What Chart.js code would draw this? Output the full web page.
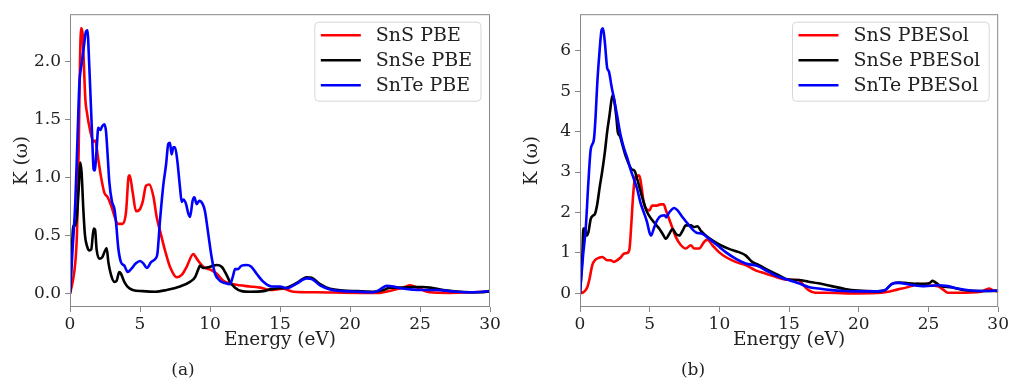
<!DOCTYPE html>
<html>
<head>
<meta charset="utf-8">
<script src="https://cdn.jsdelivr.net/npm/chart.js@4.4.1/dist/chart.umd.min.js"></script>
<style>
  body { margin: 0; background: #fff; width: 1011px; height: 380px; overflow: hidden; position: relative; }
  canvas { position: absolute; top: 0; }
  #chartA { left: 0; }
  #chartB { left: 510px; }
  .cap { position: absolute; top: 359px; font: 17px "DejaVu Serif", serif; color: #222; transform: translateX(-50%); }
</style>
</head>
<body>
<canvas id="chartA" width="505" height="360"></canvas>
<canvas id="chartB" width="501" height="360"></canvas>
<div class="cap" style="left:183px">(a)</div>
<div class="cap" style="left:693px">(b)</div>
<script>
// ---- data: energy (eV) and K(omega) per series ----
const energyTicks = [0, 5, 10, 15, 20, 25, 30];
const pbeTicks = [0, 0.5, 1.0, 1.5, 2.0];
const pbesolTicks = [0, 1, 2, 3, 4, 5, 6];

// (a) PBE
const snsPbeE = [0, 0.19, 0.38, 0.5, 0.62, 0.71, 0.79, 0.9, 0.95, 1.1, 1.21, 1.43, 1.67, 1.81, 1.98, 2.21, 2.45, 2.69, 2.93, 3.17, 3.4, 3.76, 4.0, 4.19, 4.26, 4.48, 4.71, 4.95, 5.19, 5.43, 5.67, 5.95, 6.19, 6.43, 6.79, 7.14, 7.62, 7.98, 8.33, 8.81, 9.05, 9.52, 10.12, 10.48, 10.95, 11.43, 12.1, 12.86, 13.6, 14.3, 15.2, 15.95, 17.6, 20.7, 22.1, 23.1, 23.8, 24.3, 24.8, 25.7, 27.1, 29.5, 30];
const snsPbeK = [0, 0.10, 0.27, 0.53, 1.24, 1.96, 2.29, 2.24, 2.10, 1.67, 1.56, 1.41, 1.31, 1.32, 1.19, 1.01, 0.87, 0.83, 0.76, 0.67, 0.60, 0.60, 0.70, 1.01, 1.02, 0.87, 0.71, 0.72, 0.79, 0.93, 0.94, 0.84, 0.66, 0.54, 0.37, 0.23, 0.14, 0.16, 0.23, 0.34, 0.30, 0.23, 0.20, 0.17, 0.11, 0.085, 0.07, 0.06, 0.05, 0.03, 0.04, 0.015, 0.01, 0.005, 0.005, 0.03, 0.05, 0.07, 0.05, 0.01, 0.005, 0.015, 0.02];

const snsePbeE = [0, 0.14, 0.24, 0.36, 0.5, 0.62, 0.74, 0.83, 0.95, 1.07, 1.21, 1.38, 1.52, 1.69, 1.79, 1.9, 2.1, 2.29, 2.62, 2.74, 2.93, 3.17, 3.33, 3.52, 3.64, 3.88, 4.12, 4.48, 5.19, 6.1, 6.9, 7.86, 8.57, 8.93, 9.17, 9.29, 9.52, 9.88, 10.24, 10.48, 10.83, 11.14, 11.43, 11.79, 12.26, 12.86, 13.81, 14.3, 15.0, 15.48, 16.19, 16.9, 17.26, 17.86, 18.57, 19.5, 20.5, 21.67, 22.4, 22.86, 23.6, 24.5, 25.2, 25.7, 26.67, 27.86, 29.5, 30];
const snsePbeK = [0, 0.39, 0.585, 0.585, 0.67, 0.90, 1.13, 1.04, 0.73, 0.50, 0.41, 0.37, 0.38, 0.56, 0.55, 0.38, 0.30, 0.31, 0.39, 0.27, 0.16, 0.10, 0.11, 0.185, 0.17, 0.10, 0.057, 0.03, 0.02, 0.015, 0.03, 0.06, 0.10, 0.14, 0.21, 0.24, 0.22, 0.225, 0.24, 0.245, 0.23, 0.17, 0.10, 0.05, 0.02, 0.015, 0.02, 0.035, 0.045, 0.05, 0.09, 0.14, 0.135, 0.08, 0.04, 0.025, 0.02, 0.015, 0.03, 0.05, 0.05, 0.055, 0.055, 0.05, 0.03, 0.015, 0.01, 0.02];

const sntePbeE = [0, 0.19, 0.38, 0.55, 0.67, 0.83, 1.02, 1.14, 1.26, 1.33, 1.43, 1.57, 1.69, 1.76, 1.9, 2.02, 2.17, 2.29, 2.45, 2.57, 2.69, 2.81, 3.0, 3.17, 3.29, 3.45, 3.64, 3.88, 4.12, 4.36, 4.71, 5.0, 5.24, 5.48, 5.79, 6.1, 6.24, 6.43, 6.67, 6.86, 7.02, 7.14, 7.26, 7.38, 7.5, 7.67, 7.86, 7.98, 8.1, 8.29, 8.45, 8.57, 8.76, 8.88, 9.05, 9.24, 9.48, 9.64, 9.88, 10.12, 10.36, 10.71, 11.07, 11.43, 11.62, 11.79, 12.0, 12.26, 12.62, 12.95, 13.33, 13.81, 14.4, 15.0, 15.48, 16.19, 16.9, 17.26, 17.86, 18.57, 19.5, 20.5, 21.67, 22.1, 22.6, 23.1, 23.6, 24.3, 25.2, 26.2, 27.1, 28.3, 29.5, 30];
const sntePbeK = [0, 0.39, 0.79, 1.39, 1.81, 1.98, 2.16, 2.26, 2.27, 2.10, 1.81, 1.39, 1.07, 1.06, 1.24, 1.43, 1.41, 1.44, 1.46, 1.40, 1.19, 0.96, 0.79, 0.73, 0.61, 0.39, 0.27, 0.24, 0.185, 0.21, 0.26, 0.28, 0.26, 0.22, 0.27, 0.30, 0.34, 0.63, 0.94, 1.11, 1.29, 1.30, 1.20, 1.26, 1.26, 1.14, 0.91, 0.79, 0.81, 0.77, 0.69, 0.66, 0.80, 0.83, 0.77, 0.80, 0.77, 0.71, 0.51, 0.31, 0.17, 0.11, 0.09, 0.08, 0.14, 0.21, 0.21, 0.24, 0.245, 0.23, 0.17, 0.10, 0.06, 0.06, 0.045, 0.085, 0.13, 0.125, 0.07, 0.035, 0.02, 0.015, 0.01, 0.03, 0.065, 0.06, 0.045, 0.035, 0.03, 0.03, 0.02, 0.01, 0.015, 0.02];

// (b) PBESol
const snsSolE = [0, 0.29, 0.53, 0.69, 0.88, 1.07, 1.36, 1.6, 1.95, 2.19, 2.43, 2.67, 2.9, 3.14, 3.38, 3.55, 3.69, 3.81, 3.93, 4.1, 4.26, 4.4, 4.57, 4.74, 4.98, 5.17, 5.52, 5.76, 6.0, 6.17, 6.52, 6.88, 7.24, 7.59, 7.95, 8.19, 8.55, 8.9, 9.14, 9.5, 9.97, 10.45, 11.16, 11.88, 12.59, 13.3, 14.02, 14.73, 15.68, 16.04, 16.4, 16.87, 17.6, 19.97, 21.63, 22.82, 23.77, 24.24, 24.72, 25.67, 26.03, 26.39, 27.1, 28.77, 29.35, 29.6, 30];
const snsSolK = [0, 0.04, 0.16, 0.37, 0.70, 0.82, 0.88, 0.90, 0.82, 0.82, 0.78, 0.82, 0.88, 0.98, 1.0, 1.1, 1.76, 2.42, 2.83, 2.91, 2.91, 2.66, 2.25, 2.09, 2.05, 2.17, 2.17, 2.2, 2.2, 2.05, 1.72, 1.39, 1.19, 1.11, 1.19, 1.11, 1.11, 1.27, 1.33, 1.19, 1.02, 0.90, 0.78, 0.70, 0.57, 0.49, 0.41, 0.34, 0.33, 0.2, 0.08, 0.015, 0.015, 0.0, 0.015, 0.10, 0.18, 0.24, 0.2, 0.18, 0.10, 0.015, 0.015, 0.04, 0.12, 0.08, 0.04];

const snseSolE = [0, 0.17, 0.24, 0.36, 0.45, 0.6, 0.77, 0.93, 1.07, 1.24, 1.41, 1.6, 1.79, 1.95, 2.12, 2.26, 2.36, 2.5, 2.6, 2.72, 2.86, 3.03, 3.26, 3.5, 3.69, 3.91, 4.1, 4.33, 4.57, 4.81, 5.12, 5.4, 5.69, 5.93, 6.17, 6.4, 6.64, 6.88, 7.12, 7.36, 7.59, 7.95, 8.19, 8.43, 8.66, 9.02, 9.5, 10.09, 10.69, 11.4, 11.88, 12.35, 12.83, 13.54, 14.25, 14.97, 15.68, 16.4, 17.11, 18.06, 19.0, 19.97, 21.15, 21.87, 22.35, 22.82, 23.3, 24.0, 24.72, 25.1, 25.3, 25.55, 25.9, 26.6, 27.6, 28.5, 29.5, 30];
const snseSolK = [0, 0.94, 1.6, 1.6, 1.43, 1.51, 1.84, 1.92, 1.96, 2.21, 2.62, 3.03, 3.51, 4.0, 4.41, 4.78, 4.9, 4.67, 4.38, 3.97, 3.89, 3.69, 3.41, 3.2, 3.07, 3.03, 2.83, 2.54, 2.25, 2.01, 1.84, 1.72, 1.6, 1.47, 1.35, 1.47, 1.59, 1.47, 1.43, 1.55, 1.68, 1.68, 1.64, 1.66, 1.55, 1.43, 1.31, 1.19, 1.1, 1.02, 0.94, 0.78, 0.7, 0.57, 0.45, 0.34, 0.33, 0.29, 0.25, 0.18, 0.11, 0.07, 0.05, 0.08, 0.23, 0.27, 0.26, 0.24, 0.24, 0.26, 0.31, 0.26, 0.18, 0.15, 0.08, 0.06, 0.06, 0.07];

const snteSolE = [0, 0.22, 0.41, 0.6, 0.77, 1.0, 1.12, 1.24, 1.41, 1.55, 1.65, 1.79, 1.95, 2.07, 2.26, 2.43, 2.67, 2.9, 3.14, 3.38, 3.62, 3.86, 4.1, 4.33, 4.57, 4.81, 4.98, 5.1, 5.29, 5.52, 5.83, 6.07, 6.17, 6.4, 6.76, 7.0, 7.36, 7.83, 8.31, 8.78, 9.26, 9.85, 10.45, 11.16, 11.88, 12.7, 13.54, 14.25, 14.97, 15.68, 16.4, 17.11, 18.06, 19.0, 19.97, 21.15, 21.87, 22.35, 22.82, 23.77, 24.72, 25.67, 26.39, 27.1, 28.05, 29.0, 30];
const snteSolK = [0, 0.94, 1.6, 2.74, 3.56, 3.81, 4.38, 5.2, 6.02, 6.51, 6.55, 6.18, 5.57, 5.49, 5.12, 4.83, 4.38, 3.93, 3.6, 3.36, 3.07, 2.83, 2.58, 2.25, 2.01, 1.76, 1.51, 1.43, 1.6, 1.8, 1.92, 1.93, 1.88, 2.0, 2.11, 2.05, 1.88, 1.68, 1.51, 1.47, 1.35, 1.19, 1.02, 0.86, 0.74, 0.68, 0.53, 0.41, 0.33, 0.25, 0.16, 0.12, 0.08, 0.06, 0.05, 0.05, 0.08, 0.23, 0.26, 0.21, 0.18, 0.2, 0.18, 0.12, 0.07, 0.06, 0.07];

const FONT = '"DejaVu Serif", serif';
const TEXT = '#222';
const FRAME = '#888';

function pts(xs, ys) {
    return xs.map((x, i) => ({ x: x, y: ys[i] }));
}

function series(label, xs, ys, color, order) {
    return {
        label: label,
        data: pts(xs, ys),
        borderColor: color,
        backgroundColor: color,
        borderWidth: 2.6,
        pointRadius: 0,
        cubicInterpolationMode: 'monotone',
        fill: false,
        order: order
    };
}

// legend box drawn inside the plot, top right, matplotlib style
const boxLegend = {
    id: 'boxLegend',
    afterDatasetsDraw(chart) {
        const { ctx, chartArea } = chart;
        const ds = chart.data.datasets;
        ctx.save();
        ctx.font = '19px ' + FONT;
        const textW = Math.max(...ds.map(d => ctx.measureText(d.label).width));
        const w = 61 + textW + 9;
        const h = 79;
        const x = chartArea.right - 9 - w;
        const y = chartArea.top + 8;
        ctx.beginPath();
        ctx.roundRect(x, y, w, h, 4);
        ctx.fillStyle = 'rgba(255,255,255,0.85)';
        ctx.fill();
        ctx.strokeStyle = '#d6d6d6';
        ctx.lineWidth = 1;
        ctx.stroke();
        ds.forEach((d, i) => {
            const cy = y + 13 + i * 25;
            ctx.beginPath();
            ctx.moveTo(x + 6, cy);
            ctx.lineTo(x + 46, cy);
            ctx.strokeStyle = d.borderColor;
            ctx.lineWidth = 2.6;
            ctx.stroke();
            ctx.fillStyle = TEXT;
            ctx.textBaseline = 'middle';
            ctx.fillText(d.label, x + 61, cy + 1);
        });
        ctx.restore();
    },
    afterDraw(chart) {
        const { ctx, chartArea } = chart;
        ctx.save();
        ctx.strokeStyle = FRAME;
        ctx.lineWidth = 1;
        ctx.strokeRect(chartArea.left + 0.5, chartArea.top + 0.5,
            chartArea.right - chartArea.left - 1, chartArea.bottom - chartArea.top - 1);
        ctx.restore();
    }
};

function makeChart(id, datasets, yMin, yMax, yTicks, yFmt, rightPad) {
    return new Chart(document.getElementById(id), {
        type: 'line',
        data: { datasets: datasets },
        options: {
            responsive: false,
            animation: false,
            layout: { padding: { left: 0, top: 12, right: rightPad, bottom: 0 } },
            plugins: { legend: { display: false }, tooltip: { enabled: false } },
            scales: {
                x: {
                    type: 'linear',
                    min: 0,
                    max: 30,
                    afterBuildTicks: s => { s.ticks = energyTicks.map(v => ({ value: v })); },
                    afterFit: s => { s.height = 53; },
                    ticks: { color: TEXT, font: { family: FONT, size: 17 }, padding: 2, maxRotation: 0 },
                    grid: { drawOnChartArea: false, drawTicks: true, tickLength: 5, color: FRAME },
                    border: { display: false },
                    title: { display: true, text: 'Energy (eV)', color: TEXT, font: { family: FONT, size: 18.5 }, padding: { top: 0, bottom: 9 } }
                },
                y: {
                    type: 'linear',
                    min: yMin,
                    max: yMax,
                    afterBuildTicks: s => { s.ticks = yTicks.map(v => ({ value: v })); },
                    afterFit: s => { s.width = 70; },
                    ticks: { color: TEXT, font: { family: FONT, size: 17 }, padding: 4, callback: yFmt },
                    grid: { drawOnChartArea: false, drawTicks: true, tickLength: 5, color: FRAME },
                    border: { display: false },
                    title: { display: true, text: 'K (ω)', color: TEXT, font: { family: FONT, size: 18.5 }, padding: { top: 11, bottom: 0 } }
                }
            }
        },
        plugins: [boxLegend]
    });
}

makeChart('chartA', [
    series('SnS PBE', snsPbeE, snsPbeK, '#ff0000', 3),
    series('SnSe PBE', snsePbeE, snsePbeK, '#000000', 2),
    series('SnTe PBE', sntePbeE, sntePbeK, '#0000ff', 1)
], -0.117, 2.409, pbeTicks, v => v.toFixed(1), 15);

makeChart('chartB', [
    series('SnS PBESol', snsSolE, snsSolK, '#ff0000', 3),
    series('SnSe PBESol', snseSolE, snseSolK, '#000000', 2),
    series('SnTe PBESol', snteSolE, snteSolK, '#0000ff', 1)
], -0.336, 6.90, pbesolTicks, v => String(v), 10);
</script>
</body>
</html>
